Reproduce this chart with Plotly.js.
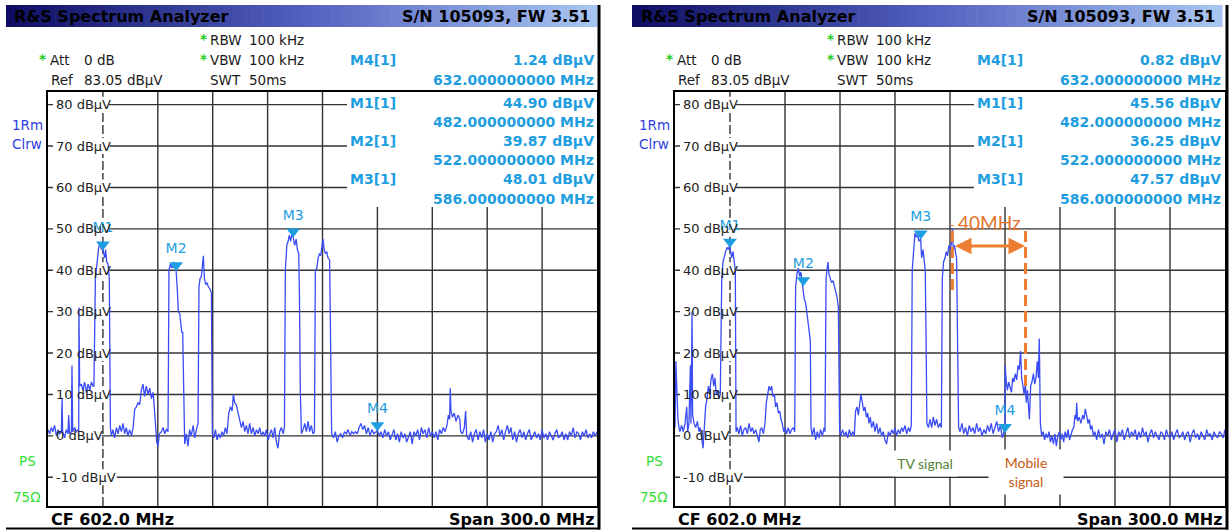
<!DOCTYPE html>
<html><head><meta charset="utf-8">
<script src="https://cdn.plot.ly/plotly-3.0.1.min.js"></script>
<style>html,body{margin:0;padding:0;background:#fff;overflow:hidden}#chart{width:1229px;height:531px}</style>
</head><body><div id="chart"></div>
<script>
// ---------------- DATA ----------------
const freqStart = 452, freqStop = 752;          // MHz (CF 602, span 300)
const refLevel = 83.05, bottomLevel = -16.95;   // dBµV

const gridFreqs  = [482, 512, 542, 572, 602, 632, 662, 692, 722];
const gridLevels = [-10, 0, 10, 20, 30, 40, 50, 60, 70, 80];
const levelTickLabels = ['-10 dBμV', '0 dBμV', '10 dBμV', '20 dBμV', '30 dBμV', '40 dBμV', '50 dBμV', '60 dBμV', '70 dBμV', '80 dBμV'];

const markerNames = ['M1', 'M2', 'M3', 'M4'];
const markerFreqs = [482, 522, 586, 632];
const markerLevelsLeft  = [44.90, 39.87, 48.01, 1.24];
const markerLevelsRight = [45.56, 36.25, 47.57, 0.82];

// left screenshot trace
const freqLeft = [
 452.0,452.9,453.8,454.7,455.6,456.6,457.5,458.4,459.3,459.7,
 460.0,461.1,462.0,462.9,463.3,463.8,464.8,465.1,465.5,466.6,
 467.5,468.4,468.8,468.9,469.3,470.2,471.1,472.0,473.0,473.9,
 474.8,475.7,476.6,477.1,477.9,478.4,479.0,479.7,480.4,481.2,
 481.7,482.0,483.0,483.5,484.1,484.8,485.5,486.1,486.6,487.5,
 488.4,489.4,490.3,491.2,492.1,493.0,493.9,494.8,495.7,496.6,
 497.6,498.5,499.4,500.3,501.2,502.1,503.0,503.9,504.8,505.7,
 506.7,507.6,508.5,509.4,509.9,510.7,511.4,512.1,512.9,514.0,
 514.9,515.8,516.7,517.6,518.1,518.9,519.8,520.7,521.4,522.0,
 522.7,523.2,524.0,524.5,525.1,525.6,526.2,526.7,527.6,528.5,
 529.4,530.3,531.3,532.2,533.1,534.0,534.5,535.1,535.8,536.4,
 536.9,537.5,538.2,538.9,539.6,540.5,541.3,541.5,541.8,542.6,
 543.5,544.4,545.3,546.2,547.1,548.0,548.9,549.8,550.8,551.7,
 552.6,553.3,554.0,554.9,555.9,556.8,557.7,558.6,559.5,560.4,
 561.3,562.2,563.1,564.1,565.0,565.9,566.8,567.7,568.6,569.5,
 570.4,571.3,572.3,573.2,574.1,575.0,575.9,576.8,577.7,578.6,
 579.5,580.5,581.2,581.7,582.5,583.2,583.9,584.6,585.4,586.0,
 586.8,587.6,588.3,589.0,589.4,589.9,590.5,591.4,592.3,593.2,
 594.1,595.0,595.9,596.8,597.6,598.1,598.9,599.6,600.3,601.0,
 601.8,602.3,602.9,603.6,604.3,605.0,605.9,606.5,607.0,608,
 609,610,611,612,613,614,615,616,617,618,
 619,620,621,622,623,624,625,626,627,628,
 629,630,631,632,633,634,635,636,637,638,
 639,640,641,642,643,644,645,646,647,648,
 649,650,651,652,653,654,655,656,657,658,
 659,660,661,662,663,664,665,666,667,668,
 669,670,670.8,671.5,671.8,672.2,673,674,675,676,
 677,677.5,678.5,679.5,680.2,680.8,682,683,684,685,
 686,687,688,689,690,691,692,693,694,695,
 696,697,698,699,700,701,702,703,704,705,
 706,707,708,709,710,711,712,713,714,715,
 716,717,718,719,720,721,722,723,724,725,
 726,727,728,729,730,731,732,733,734,735,
 736,737,738,739,740,741,742,743,744,745,
 746,747,748,749,750,751,752
];
const levelLeft = [
 1.5,0.5,2.0,1.0,2.5,0.0,1.5,0.5,1.0,9.0,
 1.0,-0.5,1.5,0.5,5.0,0.5,1.0,17.0,1.0,2.0,
 1.0,1.5,1.0,31.0,12.0,12.5,11.0,13.0,10.5,12.5,
 11.0,13.0,12.0,12.0,38.0,40.0,44.0,45.5,46.5,45.0,
 47.0,44.9,43.0,45.0,42.0,41.5,38.0,2.0,0.0,1.5,
 -0.5,2.0,0.5,2.5,1.0,3.0,0.5,2.0,0.0,1.5,
 0.0,2.0,6.5,7.0,8.0,7.5,11.0,12.5,9.5,12.0,
 10.0,11.5,9.0,10.5,8.0,2.0,-1.5,-2.5,0.5,1.0,
 2.0,0.5,1.5,1.0,40.0,41.5,40.5,42.0,41.0,39.87,
 35.0,30.0,29.5,27.0,25.0,25.0,2.0,-2.0,0.5,-2.5,
 1.5,0.0,2.5,-0.5,1.5,3.0,36.0,38.0,38.5,41.0,
 43.5,38.0,36.5,37.0,36.0,35.5,34.5,20.0,0.5,-0.5,
 1.5,-1.0,0.5,-0.5,1.0,0.0,2.0,0.5,5.5,7.0,
 6.0,10.0,8.0,7.5,5.5,4.0,2.0,3.5,1.0,2.5,
 0.5,3.0,0.5,2.0,0.0,1.5,0.5,2.0,0.0,1.0,
 0.0,1.5,-1.0,0.5,1.5,-0.5,2.0,-1.5,-3.0,1.0,
 2.0,0.5,2.0,40.0,46.0,47.0,48.5,47.0,49.0,48.01,
 46.0,47.5,45.0,44.0,34.0,10.0,0.5,1.5,3.0,1.0,
 3.5,1.0,2.5,0.5,1.0,40.0,40.5,43.0,44.0,43.5,
 46.0,47.5,45.0,44.0,44.5,43.0,42.5,15.0,0.5,-0.5,
 1,-1.5,0,0.5,-0.5,1,0.5,1.5,0,1,
 0.5,1,0.5,2,3,1.5,2.5,0.5,2,0,
 1.5,0.5,1,1.24,0,1,-0.5,1.5,0,1,
 -1,0.5,1.5,-1,0.5,-1.5,1,-0.5,0.5,-1.5,
 0,1,-2,1,0,1.5,-1,2,0.5,1.5,
 -0.5,2,0,1,-0.5,1,-1,1.5,0.5,2,
 1,2.5,5,4,11.5,6,4.5,5.5,3.5,5,
 4,1,0.5,2,6,0,-1,1,-1.5,0.5,
 1.5,-1,1,-0.5,1.5,-1.5,0.5,-1,1,-1.5,
 0.5,1,2.5,0,1.5,-1,1,2.5,0.5,2,
 -1,1,-1.5,0.5,1.5,-0.5,1,-1,0.5,1.5,
 -1,0,1,-0.5,0.5,-1,1.5,-0.5,0.5,-1,
 1,0,-1,0.5,1.5,-0.5,0,1,-1,0.5,
 -1,1,0,2,-0.5,1,0.5,-1,1,0,
 1.5,-0.5,0.5,-0.5,1,0,1
];

// right screenshot trace
const freqRight = [
 452.0,452.5,453.1,453.6,454.2,454.7,455.6,456.5,457.5,458.4,
 458.9,459.6,460.4,460.7,461.3,461.6,462.4,463.3,464.2,465.1,
 465.8,466.5,467.3,468.0,468.7,469.5,470.2,470.9,471.6,472.4,
 473.1,473.8,474.5,475.3,476.0,476.7,477.5,478.2,478.9,479.6,
 480.4,481.1,481.8,482.0,482.9,483.6,484.4,484.9,485.3,486.0,
 486.9,487.8,488.7,489.6,490.5,491.5,492.4,493.3,494.2,495.1,
 496.0,496.9,497.8,498.5,499.3,500.2,501.1,501.8,502.5,503.3,
 504.0,504.7,505.4,506.2,506.9,507.6,508.4,509.1,509.8,510.5,
 511.3,512.0,512.9,513.8,514.7,515.6,516.5,517.3,517.8,518.5,
 519.3,520.0,520.7,521.4,522.0,522.5,523.3,524.0,524.7,525.4,
 525.8,526.2,526.9,527.8,528.7,529.6,530.5,531.4,532.4,533.3,
 533.8,534.4,534.9,535.4,536.0,536.7,537.4,538.2,538.9,539.6,
 540.4,541.1,541.4,541.8,542.5,543.4,544.4,545.3,546.2,547.1,
 548.0,548.9,549.8,550.5,551.3,552.0,552.7,553.4,554.2,554.9,
 555.6,556.4,557.1,557.8,558.5,559.3,560.2,561.1,562.0,562.9,
 563.8,564.7,565.6,566.5,567.4,568.4,569.3,570.2,571.1,572.0,
 572.9,573.8,574.7,575.6,576.5,577.4,578.4,579.3,580.2,580.9,
 581.4,582.2,582.9,583.6,584.3,585.1,586.0,586.5,587.3,588.0,
 588.5,588.9,589.4,590.2,591.1,592.0,592.9,593.8,594.7,595.6,
 596.5,597.3,597.8,598.5,599.3,600.0,600.7,601.4,602.2,602.9,
 603.3,603.8,604.4,605.1,605.6,606.2,606.7,607.5,608.5,609.5,
 610.5,611.5,612.5,613.5,614.5,615.5,616.5,617.5,618.5,619.5,
 620.5,621.5,622.5,623.5,624.5,625.5,626.5,627.5,628.5,629.5,
 630.5,631.5,632.0,632.1,632.5,633.3,634.0,634.7,635.5,636.2,
 636.9,637.6,638.4,639.1,639.8,640.5,641.1,641.8,642.4,643.1,
 643.6,644.2,644.7,645.3,646.0,646.7,647.5,648.2,648.9,649.6,
 650.2,650.7,651.3,652.0,652.8,653.6,654.4,655.2,656.0,656.8,
 657.6,658.4,659.2,660.0,660.8,661.6,662.4,663.2,664.0,664.8,
 665.6,666.4,667.2,668.0,668.8,669.5,670.2,670.7,671.1,671.6,
 672.5,673.4,674.4,675.1,675.8,676.5,677.3,678.0,678.7,679.4,
 680.2,681,682,683,684,685,686,687,688,689,
 690,691,692,693,694,695,696,697,698,699,
 700,701,702,703,704,705,706,707,708,709,
 710,711,712,713,714,715,716,717,718,719,
 720,721,722,723,724,725,726,727,728,729,
 730,731,732,733,734,735,736,737,738,739,
 740,741,742,743,744,745,746,747,748,749,
 750,751,752
];
const levelRight = [
 2,18,10,4,2,1,2.5,1,3,7,
 1,3,17,3,30,5,3,2,3.5,1,
 2,-1,-3,2,7,9,12,10,13.5,15,
 12,14,10,11,9,10,38,42,43.5,44.5,
 45.5,45,46,45.56,43,44.5,42,40,1,2,
 0.5,2.5,0,1.5,2,0.5,3,1,2,0.5,
 1.5,0,-1.5,1.5,2,0.5,3,8,10,12,
 11,12,9.5,10,7,8,5.5,6,4,3,
 1,2,0.5,2,0.5,1.5,2,1,36,39,
 40.5,38.5,39.5,37,36.25,33,32,29,27,24.5,
 23,2,0,2,-1,1,-0.5,1.5,0,2,
 1,38,40,42,39,38,37,37.5,36,35,
 33.5,31,18,1,0,1.5,0,1,-0.5,1.5,
 0,1,0,6,7,5,7.5,10,8,6,
 7,4.5,5.5,3,4.5,2,3.5,1,3,0.5,
 2,0,1,-1,-2,1,0,1.5,0.5,2,
 0,1.5,0.5,2,1,2.5,0.5,2,1,2.5,
 40,45,49,48,48.5,47,47.57,43,45,42,
 40,26,3,2,4,2,4.5,2.5,4,2,
 3,2,38,42,43,44.5,43.5,46,45,47,
 50,45,46,44,43,20,2,1,3,0.5,
 2,0,2.5,1,2,0.5,3,1,2,0,
 1.5,0.5,2.5,1,3,0.5,2,3.5,1,2.5,
 -0.5,1,0.82,17,14,11,13,12,10.5,14,
 13,15,13.5,17,16,20.5,14,12,10,12.5,
 8,11,6,4,12,13,15,12.5,14,18,
 14,23.5,3,0,1,-1,0.5,-0.5,1,-1.5,
 0,-2,0.5,-2.5,0,1,-1,0.5,-1.5,1,
 -0.5,1.5,-1,0.5,1.5,2,5,4,8,3.5,
 4.5,3,5,4,6.5,5,3,4,1.5,2.5,
 0,1,-1,1.5,-0.5,0.5,-2,1,0,1.5,
 -1,0.5,1.5,-1.5,1,0,1.5,-1,0.5,2,
 -0.5,1,0,1.5,-1,1,-0.5,2,0,1,
 -1.5,0.5,1.5,-0.5,1,0,-1,1,0.5,-1,
 1.5,0,-0.5,1,-1,0.5,1.5,-0.5,0,1,
 -1,0.5,1,-1.5,0.5,1.5,-0.5,0.5,-1,1,
 0,-1,1.5,0,0.5,-1,1,0,-0.5,1,
 0.5,-0.5,1.5
];

// annotation of the right screenshot
const channelGapFreqs = [603.3, 643.2];   // MHz, 40 MHz apart
const channelGapLabel = '40MHz';
const tvLabel = 'TV signal';
const mobileLabel = 'Mobile<br>signal';

// instrument header texts
const hdrTitle = 'R&amp;S Spectrum Analyzer';
const hdrSerial = 'S/N 105093, FW 3.51';
const hdrRbw = ['RBW', '100 kHz'];
const hdrVbw = ['VBW', '100 kHz'];
const hdrAtt = ['Att', '0 dB'];
const hdrRef = ['Ref', '83.05 dBμV'];
const hdrSwt = ['SWT', '50ms'];
const footCF = 'CF 602.0 MHz';
const footSpan = 'Span 300.0 MHz';

// ---------------- BUILD ----------------
const W = 1229, H = 531;
const FONT = 'DejaVu Sans, Verdana, sans-serif';
const MCOL = '#1e9ee0';
const GRID = '#333333';
const shapes = [], annotations = [], traces = [];

function txt(text, x, y, o) {
  o = o || {};
  annotations.push({
    text: text, xref: 'paper', yref: 'paper', x: x / W, y: 1 - y / H,
    xanchor: o.anchor || 'left', yanchor: 'middle', showarrow: false,
    font: { family: o.family || FONT, size: o.size || 13.5, color: o.color || '#1a1a1a', weight: o.bold ? 'bold' : 'normal' },
    bgcolor: o.bg, width: o.width, height: o.height, borderpad: 0
  });
}
function pline(x0, y0, x1, y1, color, width) {
  shapes.push({ type: 'line', xref: 'paper', yref: 'paper', x0: x0 / W, x1: x1 / W, y0: 1 - y0 / H, y1: 1 - y1 / H,
    line: { color: color, width: width }, layer: 'below' });
}

const panels = [
  { dx: 0,   x0: 48,  x1: 597,  y0: 92, y1: 506, xa: 'x',  ya: 'y',  f: freqLeft,  l: levelLeft,  m: markerLevelsLeft,  barL: 6,   barR: 597 },
  { dx: 627, x0: 675, x1: 1225, y0: 92, y1: 506, xa: 'x2', ya: 'y2', f: freqRight, l: levelRight, m: markerLevelsRight, barL: 632, barR: 1222 }
];

const layout = {
  width: W, height: H, margin: { l: 0, r: 0, t: 0, b: 0 },
  paper_bgcolor: '#ffffff', plot_bgcolor: 'rgba(0,0,0,0)', showlegend: false,
  shapes: shapes, annotations: annotations
};

panels.forEach((p, i) => {
  const sfx = i === 0 ? '' : '2';
  const pxPerDb = (p.y1 - p.y0) / (refLevel - bottomLevel);
  const freqAt = px => freqStart + (px - p.x0) / (p.x1 - p.x0) * (freqStop - freqStart);
  const levelAt = py => refLevel - (py - p.y0) / pxPerDb;
  layout['xaxis' + sfx] = { domain: [p.x0 / W, p.x1 / W], range: [freqStart, freqStop], anchor: p.ya,
    showgrid: false, zeroline: false, showticklabels: false, ticks: '', showline: true, mirror: true, linecolor: '#000', linewidth: 2, fixedrange: true };
  layout['yaxis' + sfx] = { domain: [1 - p.y1 / H, 1 - p.y0 / H], range: [bottomLevel, refLevel], anchor: p.xa,
    showgrid: false, zeroline: false, showticklabels: false, ticks: '', showline: true, mirror: true, linecolor: '#000', linewidth: 2, fixedrange: true };

  const tableEdge = freqAt(p.dx + 347);
  const tableBottom = levelAt(207);
  // grid
  gridLevels.forEach(L => {
    shapes.push({ type: 'line', xref: p.xa, yref: p.ya, x0: freqStart, x1: L >= 60 ? tableEdge : freqStop, y0: L, y1: L,
      line: { color: GRID, width: 1.4 }, layer: 'below' });
  });
  gridFreqs.forEach((f, k) => {
    shapes.push({ type: 'line', xref: p.xa, yref: p.ya, x0: f, x1: f, y0: bottomLevel, y1: f > tableEdge ? tableBottom : refLevel,
      line: { color: GRID, width: 1.4, dash: k === 0 ? '9px,3px' : 'solid' }, layer: 'below' });
  });
  // level labels with white background
  gridLevels.forEach((L, k) => {
    const lab = levelTickLabels[k];
    const wpx = lab.length * 7.6 + 2;
    shapes.push({ type: 'rect', xref: p.xa, yref: p.ya, x0: freqAt(p.x0 + 5), x1: freqAt(p.x0 + 6 + wpx), y0: L - 8 / pxPerDb, y1: L + 8 / pxPerDb,
      fillcolor: '#ffffff', line: { width: 0 }, layer: 'below' });
    annotations.push({ text: lab, xref: 'paper', yref: p.ya, x: (p.x0 + 6) / W, y: L, xanchor: 'left', yanchor: 'middle',
      showarrow: false, font: { family: FONT, size: 13, color: '#222' } });
  });

  // traces
  traces.push({ x: p.f, y: p.l, xaxis: p.xa, yaxis: p.ya, type: 'scatter', mode: 'lines',
    line: { color: '#3a4cf4', width: 1.3 }, hoverinfo: 'skip' });
  const tri = 5.5 / pxPerDb;
  traces.push({ x: markerFreqs, y: p.m.map(v => v + tri), xaxis: p.xa, yaxis: p.ya, type: 'scatter', mode: 'markers+text',
    text: markerNames, textposition: 'top center', cliponaxis: false,
    marker: { symbol: 'triangle-down', size: 12, color: MCOL, line: { width: 0 } },
    textfont: { family: FONT, size: 14, color: MCOL }, hoverinfo: 'skip' });

  // title bar gradient
  const n = 60, c0 = [14, 14, 100], c1 = [82, 96, 190], c2 = [168, 196, 240];
  for (let s = 0; s < n; s++) {
    const t = s / (n - 1);
    const a = t < 0.5 ? c0 : c1, b = t < 0.5 ? c1 : c2, u = t < 0.5 ? t * 2 : (t - 0.5) * 2;
    const col = 'rgb(' + a.map((v, j) => Math.round(v + (b[j] - v) * u)).join(',') + ')';
    const xa0 = p.barL + (p.barR - p.barL) * s / n, xa1 = p.barL + (p.barR - p.barL) * (s + 1) / n + 0.6;
    shapes.push({ type: 'rect', xref: 'paper', yref: 'paper', x0: xa0 / W, x1: xa1 / W, y0: 1 - 27 / H, y1: 1 - 5 / H,
      fillcolor: col, line: { width: 0 }, layer: 'below' });
  }
  const d = p.dx;
  txt(hdrTitle, d + 13, 16.5, { bold: true, size: 16, color: '#000' });
  txt(hdrSerial, p.barR - 6, 16.5, { bold: true, size: 16, color: '#000', anchor: 'right' });
  // settings
  txt('*', d + 199, 39, { color: '#22cc22', bold: true });
  txt(hdrRbw[0], d + 209, 40); txt(hdrRbw[1], d + 248, 40);
  txt('*', d + 38, 59, { color: '#22cc22', bold: true });
  txt(hdrAtt[0], d + 49, 60); txt(hdrAtt[1], d + 83, 60);
  txt('*', d + 199, 59, { color: '#22cc22', bold: true });
  txt(hdrVbw[0], d + 209, 60); txt(hdrVbw[1], d + 248, 60);
  txt(hdrRef[0], d + 50, 80); txt(hdrRef[1], d + 83, 80);
  txt(hdrSwt[0], d + 209, 80); txt(hdrSwt[1], d + 248, 80);
  // marker table
  const rows = [[3, 60], [0, 103], [1, 141], [2, 179]];
  rows.forEach(([k, y]) => {
    txt(markerNames[k] + '[1]', d + 349, y, { bold: true, color: MCOL, size: 14 });
    txt(p.m[k].toFixed(2) + ' dBμV', d + 595, y, { bold: true, color: MCOL, anchor: 'right', size: 14 });
    txt(markerFreqs[k].toFixed(9) + ' MHz', d + 595, y + 19.5, { bold: true, color: MCOL, anchor: 'right', size: 14 });
  });
  // side labels
  txt('1Rm', d + 27, 125, { anchor: 'center', color: '#3040e0' });
  txt('Clrw', d + 27, 144, { anchor: 'center', color: '#3040e0' });
  txt('PS', d + 27, 461, { anchor: 'center', color: '#33dd33' });
  txt('75Ω', d + 27, 497, { anchor: 'center', color: '#33dd33' });
  // footer
  txt(footCF, d + 50, 519.5, { bold: true, size: 16, color: '#000' });
  txt(footSpan, p.x1 - 1, 519.5, { bold: true, size: 16, color: '#000', anchor: 'right' });
  // frame
  pline(p.barL, 528.5, p.x1 + 3, 528.5, '#000', 2);
  pline(p.x1 + 2, 5, p.x1 + 2, 529.5, '#000', 3);
});

// orange annotation on the right screenshot
const pr = panels[1];
const pxPerDbR = (pr.y1 - pr.y0) / (refLevel - bottomLevel);
const lvlR = py => refLevel - (py - pr.y0) / pxPerDbR;
const ORANGE = '#ed7d31';
shapes.push({ type: 'line', xref: 'x2', yref: 'y2', x0: channelGapFreqs[0], x1: channelGapFreqs[0], y0: lvlR(290), y1: lvlR(225),
  line: { color: ORANGE, width: 3, dash: '11px,5px' }, layer: 'above' });
shapes.push({ type: 'line', xref: 'x2', yref: 'y2', x0: channelGapFreqs[1], x1: channelGapFreqs[1], y0: lvlR(386), y1: lvlR(227),
  line: { color: ORANGE, width: 3, dash: '11px,5px' }, layer: 'above' });
annotations.push({ xref: 'x2', yref: 'y2', axref: 'x2', ayref: 'y2', x: channelGapFreqs[1] - 0.3, y: lvlR(246),
  ax: channelGapFreqs[0] + 0.6, ay: lvlR(246), text: '', showarrow: true, arrowhead: 2, startarrowhead: 2,
  arrowside: 'end+start', arrowwidth: 3, arrowsize: 1.1, startarrowsize: 1.1, arrowcolor: ORANGE });
annotations.push({ xref: 'x2', yref: 'y2', x: (channelGapFreqs[0] + channelGapFreqs[1]) / 2 + 0.4, y: lvlR(222), text: channelGapLabel,
  showarrow: false, xanchor: 'center', yanchor: 'middle', font: { family: 'Lato, Open Sans, sans-serif', size: 19, color: '#e2742c' } });
txt(tvLabel, 925, 463, { anchor: 'center', family: 'Lato, sans-serif', size: 14, color: '#548235', bg: '#ffffff', width: 64, height: 25 });
txt(mobileLabel, 1026, 471.5, { anchor: 'center', family: 'Lato, sans-serif', size: 14, color: '#c55a11', bg: '#ffffff', width: 74, height: 44 });

Plotly.newPlot('chart', traces, layout, { staticPlot: true, displayModeBar: false });
</script>
</body></html>
